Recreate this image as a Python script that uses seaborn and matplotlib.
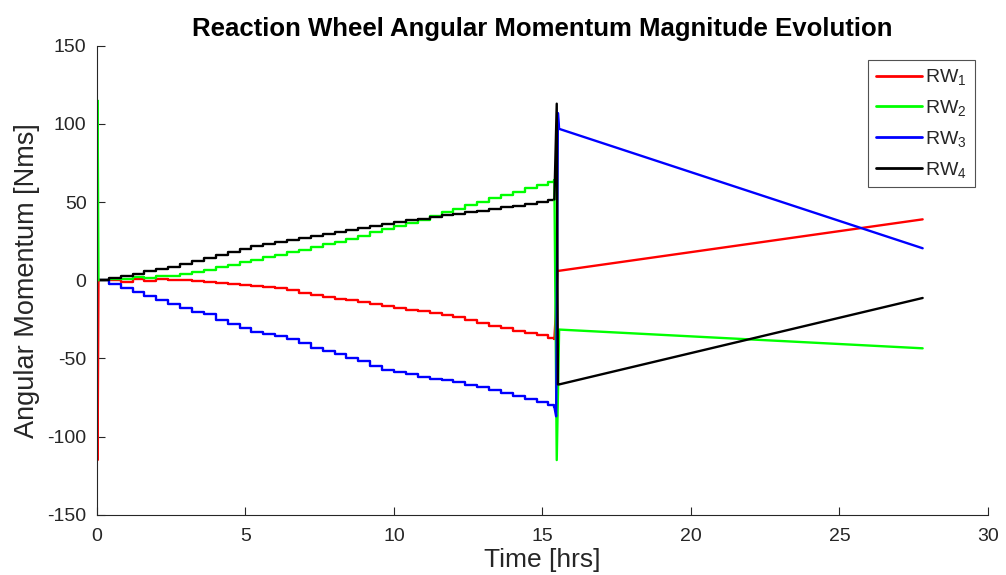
import numpy as np
import pandas as pd
import matplotlib
matplotlib.use("Agg")
import matplotlib.pyplot as plt
import seaborn as sns

# ---- data -------------------------------------------------------------
series_names = ["RW$_{\\mathregular{1}}$", "RW$_{\\mathregular{2}}$",
                "RW$_{\\mathregular{3}}$", "RW$_{\\mathregular{4}}$"]
series_colors = ["#ff0000", "#00ff00", "#0000ff", "#000000"]

# first arc: momentum accumulates in small steps [hrs]
t_arc1 = [0.0, 0.4, 0.8, 1.2, 1.6, 2.0, 2.4, 2.8, 3.2, 3.6, 4.0, 4.4, 4.8,
          5.2, 5.6, 6.0, 6.4, 6.8, 7.2, 7.6, 8.0, 8.4, 8.8, 9.2, 9.6, 10.0,
          10.4, 10.8, 11.2, 11.6, 12.0, 12.4, 12.8, 13.2, 13.6, 14.0, 14.4,
          14.8, 15.2, 15.4]

rw1_arc1 = [0.0, 0.5, -0.8, 0.8, -0.5, 0.9, 0.3, 0.2, -0.6, -1.0, -1.5, -2.2,
            -2.9, -3.6, -4.4, -5.2, -6.2, -7.9, -9.3, -10.6, -11.7, -12.9,
            -13.9, -15.2, -16.4, -17.5, -18.7, -19.8, -21.0, -22.1, -23.5,
            -25.4, -27.4, -29.1, -30.6, -32.2, -33.8, -35.3, -36.8, -37.5]
rw2_arc1 = [0.0, 0.8, 0.6, 1.8, 1.4, 2.6, 2.6, 3.8, 5.3, 6.9, 8.5, 10.0, 11.6,
            13.2, 14.8, 16.5, 18.1, 19.7, 21.3, 23.0, 24.7, 26.7, 28.6, 30.6,
            32.6, 34.5, 36.6, 38.9, 41.2, 43.5, 45.8, 48.1, 50.4, 52.6, 54.7,
            56.7, 58.8, 60.9, 63.0, 64.0]
rw3_arc1 = [0.0, -2.5, -5.1, -7.6, -10.2, -12.7, -15.2, -17.8, -20.3, -21.5,
            -25.4, -27.9, -30.4, -32.8, -34.2, -35.9, -37.8, -40.4, -43.0,
            -45.4, -47.4, -49.4, -51.8, -54.5, -57.1, -58.7, -60.2, -61.7,
            -62.9, -64.0, -65.3, -66.9, -68.4, -70.2, -72.0, -74.0, -75.9,
            -77.8, -79.7, -81.0]
rw4_arc1 = [0.0, 1.4, 2.9, 4.3, 5.8, 7.2, 8.6, 10.4, 12.3, 14.2, 16.1, 18.0,
            20.0, 21.8, 23.1, 24.5, 25.9, 27.2, 28.6, 29.9, 31.2, 32.5, 33.7,
            34.9, 36.2, 37.4, 38.5, 39.5, 40.5, 41.5, 42.5, 43.5, 44.5, 45.6,
            46.7, 47.8, 48.9, 50.0, 51.1, 51.7]

# initial transient at start-up
t_start = [0.0, 0.02, 0.05]
rw1_start = [0.0, -115.0, 0.0]
rw2_start = [0.0, 115.0, 0.0]

# desaturation manoeuvre and second arc
t_rw1_arc2 = [15.4, 15.44, 15.5, 15.56, 27.8]
rw1_arc2 = [-37.5, -24.0, 6.1, 6.1, 39.0]
t_rw2_arc2 = [15.4, 15.48, 15.56, 27.8]
rw2_arc2 = [64.0, -115.0, -31.5, -43.5]
t_rw3_arc2 = [15.4, 15.46, 15.52, 15.56, 27.8]
rw3_arc2 = [-81.0, -87.0, 107.0, 96.9, 20.5]
t_rw4_arc2 = [15.4, 15.48, 15.52, 15.56, 27.8]
rw4_arc2 = [51.7, 113.0, -66.6, -66.6, -11.3]

x_ticks = [0, 5, 10, 15, 20, 25, 30]
y_ticks = [-150, -100, -50, 0, 50, 100, 150]

# ---- tidy tables --------------------------------------------------------
def frame(pairs):
    rows = []
    for name, t, v in pairs:
        rows.append(pd.DataFrame({"Time": t, "H": v, "wheel": name}))
    return pd.concat(rows, ignore_index=True)

arc1 = frame([(series_names[0], t_arc1, rw1_arc1),
              (series_names[1], t_arc1, rw2_arc1),
              (series_names[2], t_arc1, rw3_arc1),
              (series_names[3], t_arc1, rw4_arc1)])
start = frame([(series_names[0], t_start, rw1_start),
               (series_names[1], t_start, rw2_start)])
arc2 = frame([(series_names[0], t_rw1_arc2, rw1_arc2),
              (series_names[1], t_rw2_arc2, rw2_arc2),
              (series_names[2], t_rw3_arc2, rw3_arc2),
              (series_names[3], t_rw4_arc2, rw4_arc2)])

palette = dict(zip(series_names, series_colors))

# ---- style --------------------------------------------------------------
sns.set_style("white")
plt.rcParams["font.family"] = ["Liberation Sans", "DejaVu Sans"]
plt.rcParams["mathtext.fontset"] = "custom"
plt.rcParams["mathtext.rm"] = "Liberation Sans"
plt.rcParams["mathtext.it"] = "Liberation Sans"
plt.rcParams["axes.unicode_minus"] = False

fig = plt.figure(figsize=(10.06, 5.75), dpi=100)
ax = fig.add_axes([0.0964, 0.1047, 0.8857, 0.8156])

lw = 1.7
sns.lineplot(data=arc1, x="Time", y="H", hue="wheel", hue_order=series_names,
             palette=palette, estimator=None, sort=True, drawstyle="steps-post",
             linewidth=lw, ax=ax, legend=True)
sns.lineplot(data=start, x="Time", y="H", hue="wheel", hue_order=series_names[:2],
             palette=palette, estimator=None, sort=True,
             linewidth=lw, ax=ax, legend=False)
sns.lineplot(data=arc2, x="Time", y="H", hue="wheel", hue_order=series_names,
             palette=palette, estimator=None, sort=True,
             linewidth=lw, ax=ax, legend=False)

ax.set_xlim(0, 30)
ax.set_ylim(-150, 150)
ax.set_xticks(x_ticks)
ax.set_yticks(y_ticks)
ax.set_xlabel("Time [hrs]", fontsize=19, color="#262626", labelpad=2.5)
ax.set_ylabel("Angular Momentum [Nms]", fontsize=19.5, color="#262626", labelpad=5)
ax.set_title("Reaction Wheel Angular Momentum Magnitude Evolution",
             fontsize=18.5, fontweight="bold", color="black", pad=7)

for side in ("top", "right"):
    ax.spines[side].set_visible(False)
for side in ("left", "bottom"):
    ax.spines[side].set_color("#262626")
    ax.spines[side].set_linewidth(0.8)
ax.tick_params(axis="both", direction="in", length=6, width=0.8,
               colors="#262626", labelsize=14, left=True, bottom=True)
ax.tick_params(axis="x", pad=9.5)
ax.tick_params(axis="y", pad=7.5)

handles, labels = ax.get_legend_handles_labels()
leg = ax.legend(handles, series_names, loc="upper right",
                bbox_to_anchor=(0.9854, 0.9705), fontsize=14, frameon=True,
                fancybox=False, edgecolor="#262626", handlelength=2.35,
                handletextpad=0.2, labelspacing=0.55, borderpad=0.4,
                borderaxespad=0.0)
leg.get_frame().set_linewidth(0.8)
for line in leg.get_lines():
    line.set_linewidth(2.0)

fig.savefig("out.png", dpi=100, facecolor="white")
